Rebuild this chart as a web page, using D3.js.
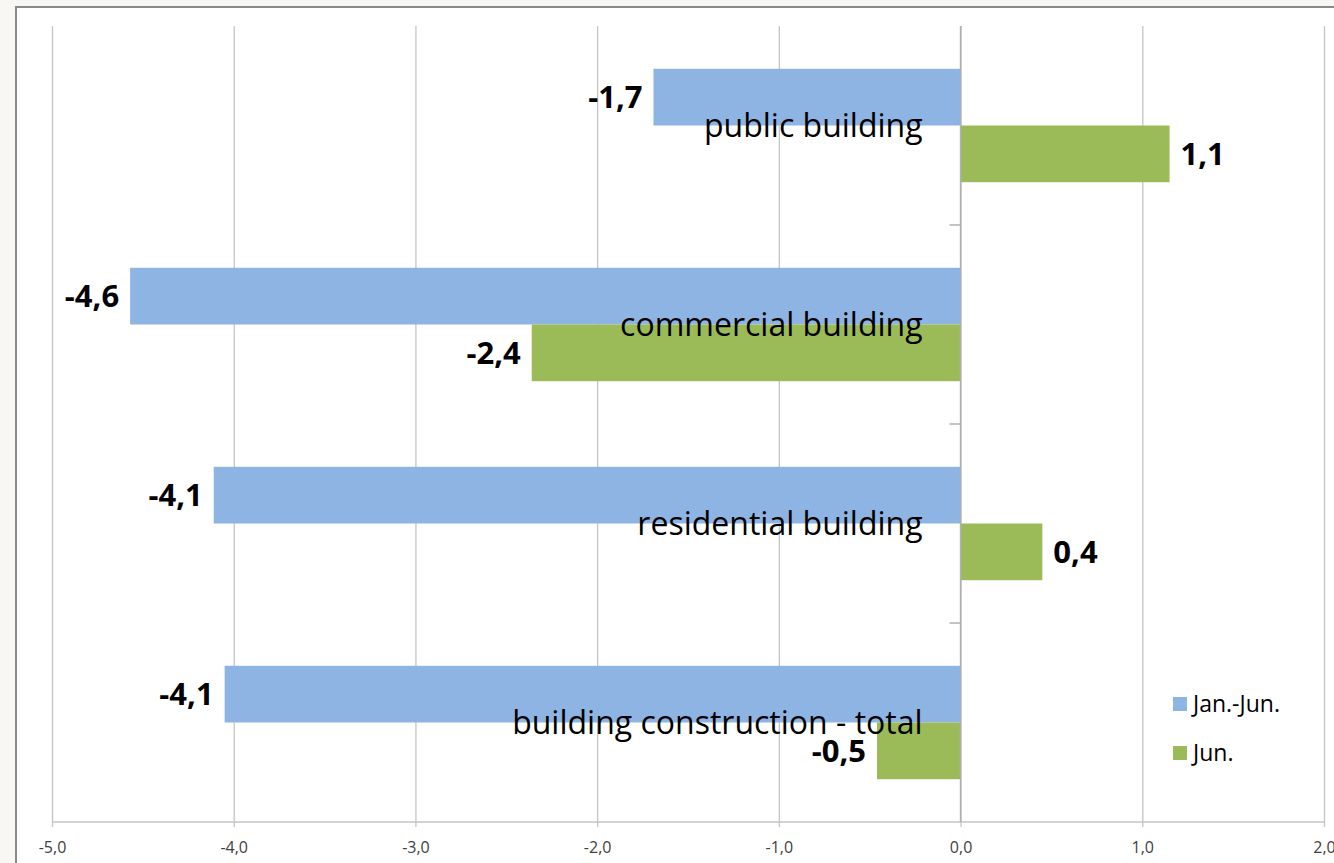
<!DOCTYPE html>
<html>
<head>
<meta charset="utf-8">
<script src="https://cdnjs.cloudflare.com/ajax/libs/d3/7.8.5/d3.min.js"></script>
<style>
  html, body { margin: 0; padding: 0; background: #f8f7f3; overflow: hidden; }
  svg { display: block; }
</style>
</head>
<body>
<svg id="chart" width="1334" height="863"></svg>
<script>
// Data ======================================================================
var categories = ["public building", "commercial building", "residential building", "building construction - total"];
var seriesNames = ["Jan.-Jun.", "Jun."];
var janJunValues = [-1.69, -4.57, -4.11, -4.05];
var junValues    = [1.15, -2.36, 0.45, -0.46];
var janJunLabels = ["-1,7", "-4,6", "-4,1", "-4,1"];
var junLabels    = ["1,1", "-2,4", "0,4", "-0,5"];
var xTicks = [-5, -4, -3, -2, -1, 0, 1, 2];

var colors = { "Jan.-Jun.": "#8eb4e3", "Jun.": "#9bbb59" };
var gridColor = "#c4c4c4";
var fontFamily = "'Open Sans', 'Noto Sans', sans-serif";

var plot = { left: 52, right: 1324, top: 26, bottom: 822 };

var svg = d3.select("#chart");

// chart frame
svg.append("rect")
	.attr("x", 16)
	.attr("y", 7)
	.attr("width", 1400)
	.attr("height", 900)
	.attr("fill", "#ffffff")
	.attr("stroke", "#8a8a8a")
	.attr("stroke-width", 2);

// Scales ====================================================================
var xScale = d3.scaleLinear()
	.domain([-5, 2])
	.range([plot.left, plot.right]);

var yScale = d3.scaleBand()
	.domain(categories)
	.range([plot.top, plot.bottom])
	.padding(0);

var barH = yScale.bandwidth() * 0.285;

// Axes ======================================================================
var xAxis = d3.axisBottom(xScale)
	.tickValues(xTicks)
	.tickSize(-(plot.bottom - plot.top))
	.tickFormat(function(d) { return d3.format(".1f")(d).replace(".", ",").replace("\u2212", "-"); });

var gx = svg.append("g")
	.attr("class", "x-axis")
	.attr("transform", "translate(0," + plot.bottom + ")")
	.call(xAxis);

gx.select(".domain").remove();
gx.selectAll(".tick line")
	.attr("stroke", gridColor)
	.attr("stroke-width", 1.3)
	.attr("y1", -(plot.bottom - plot.top))
	.attr("y2", 5);
gx.selectAll(".tick text")
	.attr("y", 31)
	.attr("dy", 0)
	.attr("fill", "#404040")
	.attr("font-family", fontFamily)
	.attr("font-size", 16);

// bottom axis line
svg.append("line")
	.attr("x1", plot.left)
	.attr("x2", plot.right)
	.attr("y1", plot.bottom)
	.attr("y2", plot.bottom)
	.attr("stroke", gridColor)
	.attr("stroke-width", 1.5);

// Bars ======================================================================
var rows = categories.map(function(c, i) {
	return { cat: c, a: janJunValues[i], b: junValues[i], la: janJunLabels[i], lb: junLabels[i] };
});

function barX(v) { return Math.min(xScale(0), xScale(v)); }
function barW(v) { return Math.abs(xScale(v) - xScale(0)); }
function barTop(d, k) { return yScale(d.cat) + yScale.bandwidth() / 2 - barH + k * barH; }

svg.selectAll("rect.bar-a")
	.data(rows)
	.enter()
	.append("rect")
	.attr("class", "bar-a")
	.attr("x", function(d) { return barX(d.a); })
	.attr("y", function(d) { return barTop(d, 0); })
	.attr("width", function(d) { return barW(d.a); })
	.attr("height", barH)
	.attr("fill", colors["Jan.-Jun."]);

svg.selectAll("rect.bar-b")
	.data(rows)
	.enter()
	.append("rect")
	.attr("class", "bar-b")
	.attr("x", function(d) { return barX(d.b); })
	.attr("y", function(d) { return barTop(d, 1); })
	.attr("width", function(d) { return barW(d.b); })
	.attr("height", barH)
	.attr("fill", colors["Jun."]);

// zero axis + category ticks
svg.append("line")
	.attr("x1", xScale(0))
	.attr("x2", xScale(0))
	.attr("y1", plot.top)
	.attr("y2", plot.bottom)
	.attr("stroke", "#b0b0b0")
	.attr("stroke-width", 1.5);

svg.selectAll("line.cat-tick")
	.data(categories.slice(1))
	.enter()
	.append("line")
	.attr("class", "cat-tick")
	.attr("x1", xScale(0) - 11)
	.attr("x2", xScale(0))
	.attr("y1", function(d) { return yScale(d); })
	.attr("y2", function(d) { return yScale(d); })
	.attr("stroke", "#b0b0b0")
	.attr("stroke-width", 1.5);

// Value labels ==============================================================
function valueLabel(cls, key, lab, k) {
	svg.selectAll("text." + cls)
		.data(rows)
		.enter()
		.append("text")
		.attr("class", cls)
		.text(function(d) { return d[lab]; })
		.attr("x", function(d) { return d[key] < 0 ? xScale(d[key]) - 11 : xScale(d[key]) + 11; })
		.attr("y", function(d) { return barTop(d, k) + barH / 2; })
		.attr("dy", "0.36em")
		.attr("text-anchor", function(d) { return d[key] < 0 ? "end" : "start"; })
		.attr("font-family", fontFamily)
		.attr("font-weight", "bold")
		.attr("font-size", 31)
		.attr("fill", "#000");
}
valueLabel("lab-a", "a", "la", 0);
valueLabel("lab-b", "b", "lb", 1);

// Category labels ===========================================================
svg.selectAll("text.cat")
	.data(categories)
	.enter()
	.append("text")
	.attr("class", "cat")
	.text(function(d) { return d; })
	.attr("x", xScale(0) - 38)
	.attr("y", function(d) { return yScale(d) + yScale.bandwidth() / 2; })
	.attr("dy", "0.36em")
	.attr("text-anchor", "end")
	.attr("font-family", fontFamily)
	.attr("font-size", 32)
	.attr("fill", "#000");

// Legend ====================================================================
var legend = svg.append("g")
	.attr("transform", "translate(1173,697)");

var li = legend.selectAll("g")
	.data(seriesNames)
	.enter()
	.append("g")
	.attr("transform", function(d, i) { return "translate(0," + (i * 49) + ")"; });

li.append("rect")
	.attr("width", 14)
	.attr("height", 14)
	.attr("fill", function(d) { return colors[d]; });

li.append("text")
	.text(function(d) { return d; })
	.attr("x", 20)
	.attr("y", 7)
	.attr("dy", "0.36em")
	.attr("font-family", fontFamily)
	.attr("font-size", 23)
	.attr("fill", "#000");
</script>
</body>
</html>
